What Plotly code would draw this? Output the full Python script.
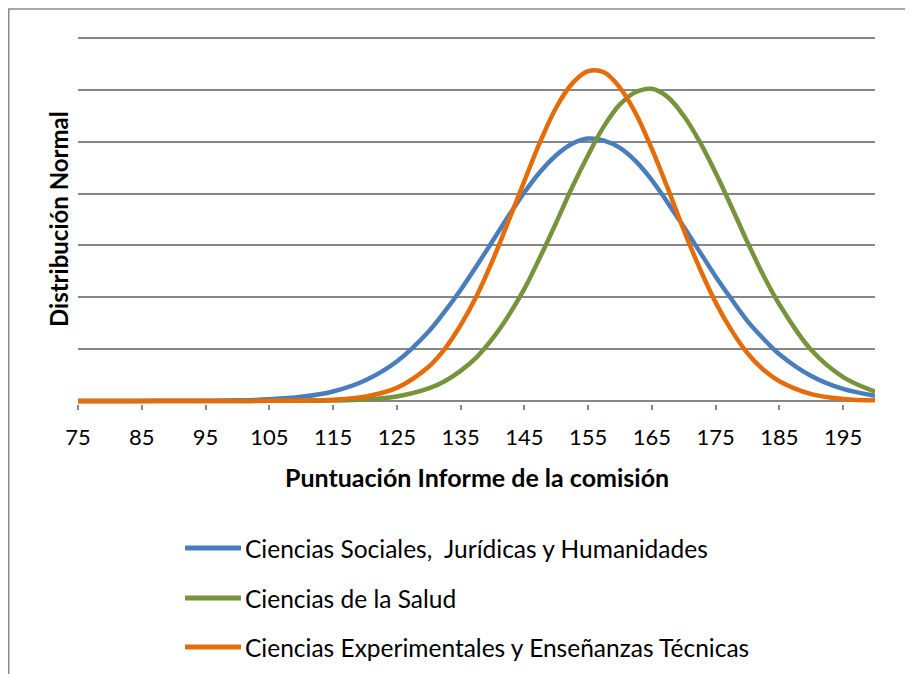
import plotly.graph_objects as go

# Puntuación (eje X) y densidades
score = [75, 80, 85, 90, 95, 100, 105, 110, 115, 120, 125,
         130, 132.5, 135, 137.5, 140, 142.5, 145, 147.5, 150, 152.5, 155, 157.5,
         160, 162.5, 165, 167.5, 170, 172.5, 175, 177.5, 180, 182.5, 185,
         190, 195, 200]

sociales = [0, 0, 0.000001, 0.000004, 0.000016, 0.00005, 0.00015, 0.00039, 0.00091, 0.00197, 0.0038,
            0.0067, 0.0086, 0.0107, 0.0130, 0.0154, 0.0178, 0.0201, 0.0221, 0.0237, 0.0248, 0.0253, 0.0251,
            0.0244, 0.0231, 0.0213, 0.0191, 0.0168, 0.0144, 0.0120, 0.0098, 0.0077, 0.0060, 0.0045,
            0.0024, 0.00115, 0.0005]

salud = [0, 0, 0, 0, 0, 0, 0.000002, 0.000009, 0.00004, 0.00014, 0.00043,
         0.0012, 0.0019, 0.0029, 0.0042, 0.0060, 0.0082, 0.0108, 0.0139, 0.0172, 0.0206, 0.0237, 0.0265,
         0.0286, 0.0298, 0.0301, 0.0293, 0.0275, 0.0250, 0.0220, 0.0187, 0.0153, 0.0121, 0.0093,
         0.0049, 0.0023, 0.0009]

experimentales = [0, 0, 0, 0, 0, 0.000001, 0.000005, 0.00003, 0.00011, 0.00041, 0.00126,
                  0.0033, 0.0050, 0.0073, 0.0101, 0.0135, 0.0173, 0.0212, 0.0250, 0.0283, 0.0306, 0.0318, 0.0317,
                  0.0302, 0.0277, 0.0243, 0.0205, 0.0165, 0.0128, 0.0095, 0.0068, 0.0046, 0.0030, 0.0019,
                  0.00066, 0.00019, 0.00005]

x_ticks = [75, 85, 95, 105, 115, 125, 135, 145, 155, 165, 175, 185, 195]

series = [
    ('Ciencias Sociales,  Jurídicas y Humanidades', sociales, '#4A7EBB'),
    ('Ciencias de la Salud', salud, '#77933C'),
    ('Ciencias Experimentales y Enseñanzas Técnicas', experimentales, '#E46C0A'),
]

FONT = 'Lato'
GRID = '#868686'

# la página añade 8px de margen al body; posiciones en px de la captura
OFF = 8
L, W, TOP, B = 78, 797, 37, 404
H = B - TOP


def px_x(px):
    return (px - L) / W


def px_y(py):
    return (B - py) / H


fig = go.Figure()

for name, vals, color in series:
    fig.add_trace(go.Scatter(
        x=score, y=vals, mode='lines', name=name,
        line=dict(color=color, width=4.5, shape='spline', smoothing=1),
        showlegend=False,
    ))

# Leyenda manual (líneas + texto)
legend_rows = [548, 598, 647]
for (name, _, color), row in zip(series, legend_rows):
    fig.add_shape(type='line', xref='paper', yref='paper',
                  x0=px_x(185), x1=px_x(241), y0=px_y(row), y1=px_y(row),
                  line=dict(color=color, width=5))
    fig.add_annotation(text=name, xref='paper', yref='paper',
                       x=px_x(243), y=px_y(row), xanchor='left', yanchor='middle',
                       showarrow=False, font=dict(family=FONT, size=24.5, color='#000'))

# Títulos de ejes
fig.add_annotation(text='<b>Puntuación Informe de la comisión</b>', xref='paper', yref='paper',
                   x=0.5, y=px_y(477), xanchor='center', yanchor='middle', showarrow=False,
                   font=dict(family=FONT, size=25, color='#000'))
fig.add_annotation(text='<b>Distribución Normal</b>', xref='paper', yref='paper',
                   x=px_x(58), y=px_y(219), textangle=-90, xanchor='center', yanchor='middle',
                   showarrow=False, font=dict(family=FONT, size=24, color='#000'))

# Marco exterior del gráfico
fig.add_shape(type='rect', xref='paper', yref='paper',
              x0=px_x(OFF + 0.75), x1=1.3, y0=-1.5, y1=px_y(OFF + 1),
              line=dict(color='#898989', width=1.5), layer='below')

fig.update_layout(
    width=913, height=674,
    margin=dict(l=L - OFF, r=913 - (L - OFF) - W, t=TOP - OFF, b=674 - (B - OFF)),
    paper_bgcolor='white', plot_bgcolor='white',
    font=dict(family=FONT, color='#000'),
)
fig.update_xaxes(
    range=[75, 200], tickvals=x_ticks, ticks='outside', ticklen=5,
    tickcolor=GRID, tickwidth=1.5, showgrid=False, showline=False, zeroline=False,
    tickfont=dict(family=FONT, size=22, color='#000'), ticklabelstandoff=9,
)
fig.update_yaxes(
    range=[-0.0003, 0.0351], tick0=0, dtick=0.005, showticklabels=False,
    showgrid=True, gridcolor=GRID, gridwidth=1.5, zeroline=False, showline=False,
)

fig.write_html('out.html')
